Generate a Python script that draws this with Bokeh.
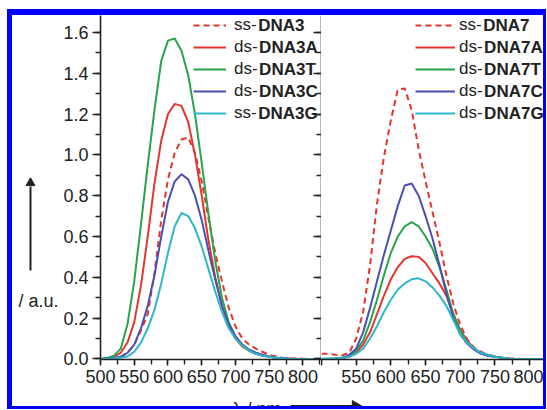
import math
from bokeh.plotting import figure
from bokeh.layouts import row, column
from bokeh.models import (SingleIntervalTicker, LinearAxis, Legend, LegendItem, Label,
                          PrintfTickFormatter, CustomJSTickFormatter, Range1d)
from bokeh.core.properties import value
from bokeh.embed import file_html
from bokeh.resources import INLINE

# ---------------- data ----------------
wavelength = list(range(500, 830, 10))  # nm

# left panel
ss_dna3 = [0.000, 0.002, 0.005, 0.010, 0.030, 0.070, 0.140, 0.220, 0.420, 0.680, 0.880, 1.010, 1.075,
           1.085, 1.010, 0.870, 0.690, 0.520, 0.380, 0.250, 0.160, 0.100, 0.070, 0.050, 0.035, 0.020,
           0.012, 0.006, 0.003, 0.002, 0.001, 0.000, 0.000]
ds_dna3a = [0.000, 0.003, 0.010, 0.030, 0.080, 0.180, 0.360, 0.600, 0.860, 1.070, 1.200, 1.250, 1.240,
            1.160, 1.000, 0.800, 0.580, 0.400, 0.260, 0.160, 0.100, 0.060, 0.040, 0.025, 0.015, 0.010,
            0.005, 0.003, 0.001, 0.000, 0.000, 0.000, 0.000]
ds_dna3t = [0.000, 0.005, 0.015, 0.050, 0.170, 0.380, 0.660, 0.950, 1.220, 1.460, 1.560, 1.570, 1.510,
            1.390, 1.200, 0.960, 0.710, 0.480, 0.300, 0.180, 0.110, 0.070, 0.045, 0.030, 0.018, 0.010,
            0.005, 0.003, 0.001, 0.000, 0.000, 0.000, 0.000]
ds_dna3c = [0.000, 0.002, 0.005, 0.010, 0.030, 0.070, 0.150, 0.260, 0.410, 0.600, 0.770, 0.870, 0.905,
            0.880, 0.800, 0.680, 0.530, 0.390, 0.260, 0.170, 0.110, 0.070, 0.045, 0.030, 0.020, 0.012,
            0.006, 0.003, 0.001, 0.000, 0.000, 0.000, 0.000]
ss_dna3g = [0.000, 0.001, 0.003, 0.006, 0.012, 0.035, 0.080, 0.150, 0.240, 0.370, 0.520, 0.650, 0.715,
            0.700, 0.640, 0.550, 0.440, 0.330, 0.230, 0.150, 0.100, 0.065, 0.040, 0.025, 0.015, 0.010,
            0.005, 0.003, 0.001, 0.000, 0.000, 0.000, 0.000]

# right panel
ss_dna7 = [0.025, 0.025, 0.020, 0.018, 0.030, 0.100, 0.230, 0.460, 0.760, 0.990, 1.170, 1.320, 1.325,
           1.220, 1.030, 0.870, 0.720, 0.570, 0.410, 0.270, 0.165, 0.095, 0.055, 0.035, 0.020, 0.012,
           0.006, 0.003, 0.001, 0.000, 0.000, 0.000, 0.000]
ds_dna7a = [0.000, 0.000, 0.001, 0.003, 0.010, 0.030, 0.070, 0.130, 0.220, 0.310, 0.390, 0.450, 0.490,
            0.503, 0.500, 0.470, 0.420, 0.370, 0.310, 0.220, 0.140, 0.090, 0.050, 0.030, 0.020, 0.010,
            0.005, 0.002, 0.000, 0.000, 0.000, 0.000, 0.000]
ds_dna7t = [0.000, 0.000, 0.002, 0.005, 0.015, 0.040, 0.090, 0.180, 0.290, 0.410, 0.520, 0.600, 0.650,
            0.670, 0.650, 0.600, 0.540, 0.450, 0.340, 0.220, 0.140, 0.080, 0.050, 0.030, 0.015, 0.010,
            0.005, 0.002, 0.000, 0.000, 0.000, 0.000, 0.000]
ds_dna7c = [0.000, 0.000, 0.002, 0.005, 0.020, 0.050, 0.130, 0.250, 0.380, 0.510, 0.630, 0.750, 0.850,
            0.860, 0.800, 0.700, 0.590, 0.460, 0.320, 0.200, 0.120, 0.075, 0.045, 0.025, 0.015, 0.010,
            0.005, 0.002, 0.000, 0.000, 0.000, 0.000, 0.000]
ds_dna7g = [0.002, 0.002, 0.002, 0.004, 0.010, 0.025, 0.050, 0.100, 0.160, 0.230, 0.290, 0.340, 0.370,
            0.390, 0.395, 0.380, 0.350, 0.310, 0.260, 0.190, 0.120, 0.080, 0.050, 0.030, 0.020, 0.010,
            0.005, 0.002, 0.000, 0.000, 0.000, 0.000, 0.000]

left_prefix = ["ss-", "ds-", "ds-", "ds-", "ss-"]
left_names = ["DNA3", "DNA3A", "DNA3T", "DNA3C", "DNA3G"]
right_prefix = ["ss-", "ds-", "ds-", "ds-", "ds-"]
right_names = ["DNA7", "DNA7A", "DNA7T", "DNA7C", "DNA7G"]
x_label = "\u03bb / nm"
y_label = "/ a.u."

# ---------------- styles ----------------
RED = "#e4352f"
GREEN = "#27a44c"
BLUE = "#4b4fb3"
CYAN = "#2fb7ca"
TXT = "#222222"
FONT = "Liberation Sans"
colors = [RED, RED, GREEN, BLUE, CYAN]
dashes = ["6 4", "solid", "solid", "solid", "solid"]
PREFIX_W = {"ss-": 23.7, "ds-": 24.6}

Y_RANGE = (-0.003, 1.683)
TOP_H = 380        # height of the panels row
BOT_H = 11         # strip that shows the (cut) x label
BOTTOM_BORDER = 36


def style_axis(ax, tick_out, minor_out, standoff):
    ax.axis_line_color = TXT
    ax.axis_line_width = 1.6
    ax.major_tick_line_color = TXT
    ax.minor_tick_line_color = TXT
    ax.major_tick_line_width = 1.4
    ax.minor_tick_line_width = 1.4
    ax.major_tick_in = 0
    ax.major_tick_out = tick_out
    ax.minor_tick_in = 0
    ax.minor_tick_out = minor_out
    ax.major_label_text_font = FONT
    ax.major_label_text_font_size = "18px"
    ax.major_label_text_color = TXT
    ax.major_label_standoff = standoff


def make_fig(width, xr, left_border, y_axis):
    p = figure(width=width, height=TOP_H, x_range=Range1d(*xr), y_range=Range1d(*Y_RANGE),
               output_backend="svg", toolbar_location=None, title=None,
               y_axis_location="left" if y_axis else None,
               min_border_left=left_border, min_border_right=0, min_border_top=0,
               min_border_bottom=BOTTOM_BORDER, outline_line_color=None,
               background_fill_color="white", border_fill_color="white")
    p.grid.visible = False
    xa = p.xaxis[0]
    xa.ticker = SingleIntervalTicker(interval=50, num_minor_ticks=2)
    style_axis(xa, 6, 5, 4)
    return p


def blank_fig(width, height, yr, bottom):
    p = figure(width=width, height=height, x_range=Range1d(0, width), y_range=Range1d(*yr),
               output_backend="svg", toolbar_location=None, title=None,
               x_axis_location=None, y_axis_location=None,
               min_border_left=0, min_border_right=0, min_border_top=0, min_border_bottom=bottom,
               outline_line_color=None, background_fill_color="white", border_fill_color="white")
    p.grid.visible = False
    return p


def add_legend(p, renderers, prefixes, names, vx, glyph_w, standoff):
    items = [LegendItem(label=pre, renderers=[r]) for pre, r in zip(prefixes, renderers)]
    leg = Legend(items=items, location=(vx, 235), padding=0, margin=0, spacing=0,
                 glyph_width=glyph_w, glyph_height=22, label_height=22,
                 label_standoff=standoff, border_line_color=None, background_fill_alpha=0,
                 label_text_font=FONT, label_text_font_size="17px", label_text_color=TXT)
    p.add_layout(leg)
    x0 = vx + glyph_w + standoff
    for i, (pre, nm) in enumerate(zip(prefixes, names)):
        p.add_layout(Label(x=x0 + PREFIX_W[pre], y=334 - 22 * i, x_units="screen", y_units="screen",
                           text=nm, text_font=FONT, text_font_size="17px", text_font_style="bold",
                           text_color=TXT, text_baseline="middle", text_align="left"))


# ---------------- left strip with the y label (shares the intensity scale) ----------------
pl = blank_fig(48, TOP_H, Y_RANGE, BOTTOM_BORDER)
pl.text(x=[6], y=[0.286], text=[y_label], text_font=value(FONT), text_font_size="18px",
        text_color=TXT, text_baseline="middle", text_align="left")
pl.line([18, 18], [0.433, 0.845], line_color=TXT, line_width=2)
pl.scatter([18], [0.862], marker="triangle", size=9, fill_color=TXT, line_color=TXT)

# ---------------- left panel ----------------
p1 = make_fig(261, (500, 827.5), 37, True)
ya = p1.yaxis[0]
ya.ticker = SingleIntervalTicker(interval=0.2, num_minor_ticks=2)
ya.formatter = PrintfTickFormatter(format="%.1f")
style_axis(ya, 8, 5, 4)

# y axis of the right panel (on the shared border, ticks pointing left, no labels)
ra = LinearAxis(ticker=SingleIntervalTicker(interval=0.2, num_minor_ticks=2),
                formatter=CustomJSTickFormatter(code="return ''"),
                major_label_standoff=0,
                major_tick_in=8, major_tick_out=0, minor_tick_in=5, minor_tick_out=0,
                axis_line_color=TXT, axis_line_width=1.6,
                major_tick_line_color=TXT, minor_tick_line_color=TXT,
                major_tick_line_width=1.4, minor_tick_line_width=1.4)
p1.add_layout(ra, "right")

left_series = [ss_dna3, ds_dna3a, ds_dna3t, ds_dna3c, ss_dna3g]
r_left = [p1.line(wavelength, s, line_color=c, line_width=2, line_dash=d)
          for s, c, d in zip(left_series, colors, dashes)]
add_legend(p1, r_left, left_prefix, left_names, 93, 33, 8)

# ---------------- right panel ----------------
p2 = make_fig(222, (500, 820), 0, False)
p2.xaxis[0].major_label_overrides = {500: ""}
right_series = [ss_dna7, ds_dna7a, ds_dna7t, ds_dna7c, ds_dna7g]
r_right = [p2.line(wavelength, s, line_color=c, line_width=2, line_dash=d)
           for s, c, d in zip(right_series, colors, dashes)]
add_legend(p2, r_right, right_prefix, right_names, 94, 40, 4)

# ---------------- bottom strip with the x label ----------------
pb = blank_fig(531, BOT_H, (0, BOT_H), 0)
pb.text(x=[220], y=[9], text=[x_label], text_font=value(FONT), text_font_size="18px",
        text_color=TXT, text_baseline="top", text_align="left")
pb.line([278, 340], [1.5, 1.5], line_color=TXT, line_width=2)
pb.scatter([343], [1.5], marker="triangle", angle=-math.pi / 2, size=11,
           fill_color=TXT, line_color=TXT)

layout = column(row(pl, p1, p2), pb,
                styles={"border-style": "solid", "border-color": "#0000ff",
                        "border-width": "6px 3px 3px 5px", "margin": "9px 0 0 7px"})

open("out.html", "w").write(file_html(layout, INLINE))
